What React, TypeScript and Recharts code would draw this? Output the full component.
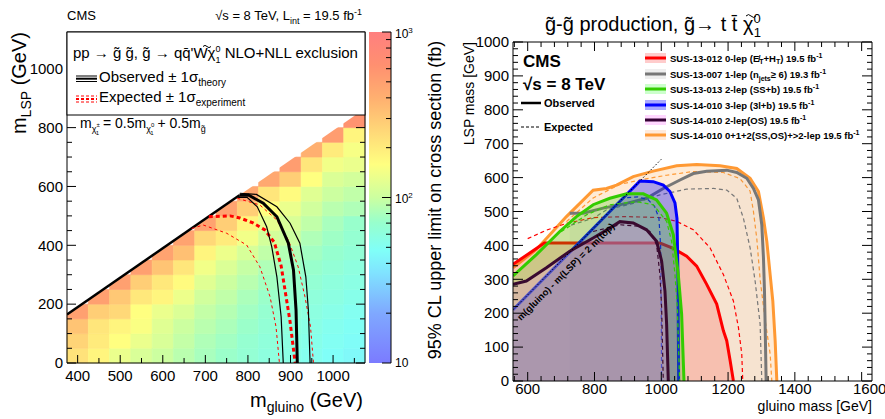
import React from 'react';
import { ComposedChart, XAxis, YAxis, Line, Area, ReferenceArea } from 'recharts';

const FONT = '"Liberation Sans", Arial, Helvetica, sans-serif';

// ---------- left panel: upper limit map ----------
const gluinoBins = [400, 450, 500, 550, 600, 650, 700, 750, 800, 850, 900, 950, 1000, 1050];
const lspBinWidth = 50;
const gluinoBinWidth = 50;
// 95% CL upper limit on cross section (fb), from m_LSP = 0 upwards to the diagonal
const lim400 = [224, 263, 316, 501];
const lim450 = [178, 200, 214, 282, 501];
const lim500 = [132, 158, 178, 251, 302, 501];
const lim550 = [112, 132, 151, 158, 209, 282, 501];
const lim600 = [100, 112, 120, 132, 178, 209, 316, 479];
const lim650 = [89, 95, 100, 115, 135, 166, 214, 331, 479];
const lim700 = [79, 83, 89, 95, 105, 120, 141, 178, 251, 479];
const lim750 = [72, 76, 81, 86, 93, 100, 115, 135, 200, 282, 479];
const lim800 = [66, 68, 72, 76, 81, 88, 96, 110, 141, 178, 282, 447];
const lim850 = [60, 62, 65, 68, 72, 77, 83, 93, 107, 126, 158, 214, 447];
const lim900 = [56, 58, 61, 64, 68, 72, 77, 85, 100, 112, 132, 166, 282, 525];
const lim950 = [52, 54, 56, 59, 62, 66, 71, 76, 83, 93, 105, 120, 158, 214, 400];
const lim1000 = [48, 50, 52, 55, 58, 61, 65, 69, 74, 79, 89, 100, 115, 141, 200, 525];
const lim1050 = [45, 47, 49, 51, 54, 57, 60, 64, 67, 71, 83, 93, 107, 132, 148, 178, 600];
const limitColumns = [lim400, lim450, lim500, lim550, lim600, lim650, lim700, lim750, lim800, lim850, lim900, lim950, lim1000, lim1050];

// kinematic edge (m_LSP vs m_gluino)
const edgeLeft = [[375, 165], [780, 570]];
const edgeWhite = { x1: 375, x2: 1075, lo: 165, hi: 865, top: 1125 };

const obsL = [[780, 570], [801, 571], [836, 543], [868, 497], [895, 407], [907, 316], [913, 180], [916, 0]];
const obsLm = [[777, 563], [798, 563], [822, 531], [844, 463], [856, 395], [868, 293], [878, 157], [883, 0]];
const obsLp = [[781, 577], [820, 573], [868, 531], [899, 475], [922, 407], [936, 293], [942, 180], [946, 0]];
const expL = [[708, 497], [758, 500], [781, 493], [812, 476], [840, 452], [862, 410], [878, 330], [888, 240], [899, 140], [911, 0]];
const expLm = [[668, 457], [695, 469], [750, 441], [797, 401], [828, 327], [852, 225], [866, 123], [874, 0]];
const expLp = [[775, 560], [828, 537], [868, 486], [895, 418], [918, 327], [934, 225], [947, 123], [954, 0]];

const xTicksL = [400, 450, 500, 550, 600, 650, 700, 750, 800, 850, 900, 950, 1000, 1050];
const xMajorL = [400, 500, 600, 700, 800, 900, 1000];
const yTicksL = [0, 50, 100, 150, 200, 250, 300, 350, 400, 450, 500, 550, 600, 650, 700, 750, 800, 850, 900, 950, 1000, 1050, 1100];
const yMajorL = [0, 200, 400, 600, 800, 1000];
const zMajor = [10, 100, 1000];
const zMinor = [20, 30, 40, 50, 60, 70, 80, 90, 200, 300, 400, 500, 600, 700, 800, 900];

// ---------- right panel: summary of exclusions ----------
const orangeObs = [[556, 334], [626, 388], [716, 485], [796, 563], [836, 568], [866, 578], [916, 603], [976, 619], [1046, 635], [1106, 639], [1176, 635], [1226, 627], [1266, 598], [1291, 559], [1306, 480], [1316, 412], [1326, 314], [1334, 236], [1341, 119], [1346, 0]];
const orangeExp = [[716, 470], [796, 540], [876, 580], [946, 595], [1016, 607], [1096, 618], [1186, 615], [1236, 597], [1266, 560], [1276, 500], [1286, 420], [1296, 300], [1311, 180], [1326, 80], [1331, 0]];
const greyObs = [[726, 495], [766, 495], [826, 510], [896, 524], [956, 539], [1006, 568], [1056, 593], [1096, 612], [1136, 619], [1196, 622], [1226, 615], [1256, 598], [1276, 568], [1291, 534], [1301, 461], [1306, 363], [1309, 266], [1311, 168], [1314, 0]];
const greyExp = [[730, 460], [796, 480], [836, 505], [916, 524], [996, 549], [1076, 566], [1156, 568], [1196, 563], [1226, 539], [1246, 480], [1266, 393], [1281, 295], [1296, 168], [1301, 0]];
const redObs = [[556, 344], [650, 407], [996, 407], [1036, 391], [1076, 368], [1106, 339], [1136, 285], [1166, 227], [1186, 148], [1196, 119], [1206, 61], [1216, 0]];
const redExp = [[600, 420], [656, 445], [716, 465], [796, 482], [896, 485], [996, 482], [1046, 471], [1096, 446], [1146, 393], [1186, 314], [1216, 236], [1231, 158], [1241, 80], [1244, 0]];
const greenObs = [[556, 310], [626, 373], [696, 441], [746, 485], [796, 520], [846, 539], [896, 552], [946, 552], [986, 534], [1016, 495], [1036, 432], [1051, 314], [1061, 197], [1068, 0]];
const greenExp = [[700, 440], [776, 490], [846, 520], [926, 529], [976, 520], [1016, 471], [1031, 412], [1041, 314], [1048, 217], [1055, 0]];
const blueObs = [[556, 210], [936, 590], [976, 588], [1006, 578], [1026, 559], [1041, 525], [1047, 480], [1050, 314], [1052, 0]];
const blueExp = [[556, 210], [886, 540], [930, 543], [960, 535], [980, 515], [993, 480], [998, 400], [1000, 200], [1001, 0]];
const purpleObs = [[556, 285], [596, 295], [656, 334], [726, 383], [796, 422], [846, 451], [876, 470], [916, 466], [956, 446], [986, 412], [1001, 354], [1011, 266], [1016, 168], [1021, 0]];
const purpleExp = [[796, 441], [876, 461], [936, 456], [966, 441], [986, 402], [996, 314], [1001, 217], [1006, 0]];
const topLine = [[556, 210], [1000, 654]];

const xMajorR = [600, 800, 1000, 1200, 1400, 1600];
const yMajorR = [0, 100, 200, 300, 400, 500, 600, 700, 800, 900, 1000];

// drawing order follows the layering seen in the figure
const analyses = [
  { key: 'orange', obs: orangeObs, exp: orangeExp, line: '#ff9933', fill: '#ff9933', op: 0.2 },
  { key: 'grey', obs: greyObs, exp: greyExp, line: '#777777', fill: '#888888', op: 0.08 },
  { key: 'red', obs: redObs, exp: redExp, line: '#ff0000', fill: '#ff2020', op: 0.18 },
  { key: 'blue', obs: blueObs, exp: blueExp, line: '#0000ff', fill: '#0000ff', op: 0.32 },
  { key: 'green', obs: greenObs, exp: greenExp, line: '#33cc00', fill: '#33cc00', op: 0.25 },
  { key: 'purple', obs: purpleObs, exp: purpleExp, line: '#3a0a30', fill: '#ee99dd', op: 0.3 },
];

const pts = (a: number[][]) => a.map(([x, y]) => ({ x, y }));
const steps = (a: number, b: number, s: number) => {
  const out: number[] = [];
  for (let v = a; v <= b + 1e-9; v += s) out.push(v);
  return out;
};

const palette: [number, string][] = [
  [1.0, '#7b7bff'], [1.3, '#7fa8ff'], [1.55, '#80e4ff'], [1.68, '#80fff8'], [1.85, '#98ffcc'],
  [2.0, '#ccffa0'], [2.2, '#ffff80'], [2.4, '#ffd878'], [2.6, '#ffb070'], [2.8, '#ff9070'], [3.0, '#ff7f7f'],
];
const hex = (c: string) => [1, 3, 5].map((i) => parseInt(c.slice(i, i + 2), 16));
function heatColor(v: number) {
  const t = Math.min(3, Math.max(1, Math.log10(v)));
  for (let i = 1; i < palette.length; i++) {
    const [t1, c1] = palette[i];
    const [t0, c0] = palette[i - 1];
    if (t <= t1) {
      const f = (t - t0) / (t1 - t0);
      const a = hex(c0), b = hex(c1);
      return `rgb(${a.map((q, k) => Math.round(q + (b[k] - q) * f)).join(',')})`;
    }
  }
  return palette[palette.length - 1][1];
}

// ROOT style ticks pointing into the frame
const mkTick = (side: 'b' | 't' | 'l' | 'r', majors: number[], big: number, small: number, fs = 0, lab0 = 18, lastShift = 0) => (p: any) => {
  const v = p.payload.value;
  const maj = majors.includes(v);
  const len = maj ? big : small;
  const { x, y } = p;
  let ln;
  if (side === 'b') ln = <line x1={x} x2={x} y1={y} y2={y - len} stroke="#000" />;
  else if (side === 't') ln = <line x1={x} x2={x} y1={y} y2={y + len} stroke="#000" />;
  else if (side === 'l') ln = <line x1={x} x2={x + len} y1={y} y2={y} stroke="#000" />;
  else ln = <line x1={x} x2={x - len} y1={y} y2={y} stroke="#000" />;
  let lab = null;
  if (maj && fs > 0 && side === 'b') {
    const dx = v === majors[majors.length - 1] ? lastShift : 0;
    lab = <text x={x + dx} y={y + lab0} textAnchor="middle" fontSize={fs} fontFamily={FONT} fill="#000">{v}</text>;
  }
  if (maj && fs > 0 && side === 'l') {
    lab = <text x={x - 4} y={y} dy="0.35em" textAnchor="end" fontSize={fs} fontFamily={FONT} fill="#000">{v}</text>;
  }
  return <g>{ln}{lab}</g>;
};

const axisStroke = { stroke: '#000', strokeWidth: 1 };

type AxisCfg = { xd: number[]; yd: number[]; xt: number[]; yt: number[]; xm: number[]; ym: number[]; xlab0: number; last: number; big: number };
const leftCfg: AxisCfg = { xd: [375, 1075], yd: [0, 1125], xt: xTicksL, yt: yTicksL, xm: xMajorL, ym: yMajorL, xlab0: 18, last: 0, big: 9 };
const rightCfg: AxisCfg = { xd: [556, 1631], yd: [0, 1000], xt: steps(560, 1600, 40), yt: steps(0, 1000, 20), xm: xMajorR, ym: yMajorR, xlab0: 13, last: 8, big: 10 };

function axes(c: AxisCfg, show: boolean) {
  const common = { type: 'number' as const, allowDataOverflow: true, interval: 0 as const, tickSize: 0, tickMargin: 0, tickLine: false };
  const al = show ? axisStroke : false;
  return [
    <XAxis key="xb" xAxisId="b" dataKey="x" domain={c.xd} ticks={c.xt} height={30} {...common} axisLine={al}
      tick={show ? mkTick('b', c.xm, c.big - 1, 5, 15, c.xlab0, c.last) : false} />,
    <XAxis key="xt" xAxisId="t" orientation="top" dataKey="x" domain={c.xd} ticks={c.xt} height={10} {...common} axisLine={al}
      tick={show ? mkTick('t', c.xm, c.big - 1, 5) : false} />,
    <YAxis key="yl" yAxisId="l" domain={c.yd} ticks={c.yt} width={40} {...common} axisLine={al}
      tick={show ? mkTick('l', c.ym, c.big, 5, 15) : false} />,
    <YAxis key="yr" yAxisId="r" orientation="right" domain={c.yd} ticks={c.yt} width={10} {...common} axisLine={al}
      tick={show ? mkTick('r', c.ym, c.big, 5) : false} />,
  ];
}

const leftMargin = { top: 22, right: 510, bottom: 26, left: 27 };
const rightMargin = { top: 32, right: 3, bottom: 8, left: 473 };
const abs = { position: 'absolute' as const, left: 0, top: 0 };

function Frame({ cfg, margin }: { cfg: AxisCfg; margin: any }) {
  return (
    <ComposedChart width={885} height={419} margin={margin} style={abs}>
      {axes(cfg, true)}
      <Line xAxisId="b" yAxisId="l" data={[{ x: cfg.xd[0], y: 0 }, { x: cfg.xd[1], y: 0 }]} dataKey="y" stroke="none" dot={false} isAnimationActive={false} />
    </ComposedChart>
  );
}

function LeftPanel() {
  const cells: any[] = [];
  limitColumns.forEach((col, i) => {
    const gx = gluinoBins[i];
    col.forEach((v, j) => {
      const c = heatColor(v);
      cells.push(
        <ReferenceArea key={`c${i}-${j}`} xAxisId="b" yAxisId="l" x1={gx - gluinoBinWidth / 2} x2={gx + gluinoBinWidth / 2}
          y1={j * lspBinWidth} y2={(j + 1) * lspBinWidth} fill={c} fillOpacity={1} stroke={c} strokeWidth={0.6} />
      );
    });
  });
  const w = edgeWhite;
  return (
    <ComposedChart width={885} height={419} margin={leftMargin} style={abs}>
      {axes(leftCfg, false)}
      {cells}
      <ReferenceArea xAxisId="b" yAxisId="l" x1={w.x1} x2={w.x2} y1={w.lo} y2={w.top} fillOpacity={1}
        shape={(p: any) => {
          const f = (w.hi - w.lo) / (w.top - w.lo);
          const { x, y, width, height } = p;
          return <polygon points={`${x},${y + height} ${x + width},${y + height - f * height} ${x + width},${y} ${x},${y}`} fill="#fff" />;
        }} />
      <Line xAxisId="b" yAxisId="l" data={pts(edgeLeft)} dataKey="y" stroke="#000" strokeWidth={2.5} dot={false} isAnimationActive={false} />
      <Line xAxisId="b" yAxisId="l" data={pts(expLm)} dataKey="y" stroke="#ff0000" strokeWidth={1} strokeDasharray="3 3" dot={false} isAnimationActive={false} />
      <Line xAxisId="b" yAxisId="l" data={pts(expLp)} dataKey="y" stroke="#ff0000" strokeWidth={1} strokeDasharray="3 3" dot={false} isAnimationActive={false} />
      <Line xAxisId="b" yAxisId="l" data={pts(expL)} dataKey="y" stroke="#ff0000" strokeWidth={3} strokeDasharray="4 3" dot={false} isAnimationActive={false} />
      <Line xAxisId="b" yAxisId="l" data={pts(obsLm)} dataKey="y" stroke="#000" strokeWidth={1.2} dot={false} isAnimationActive={false} />
      <Line xAxisId="b" yAxisId="l" data={pts(obsLp)} dataKey="y" stroke="#000" strokeWidth={1.2} dot={false} isAnimationActive={false} />
      <Line xAxisId="b" yAxisId="l" data={pts(obsL)} dataKey="y" stroke="#000" strokeWidth={3} dot={false} isAnimationActive={false} />
    </ComposedChart>
  );
}

function RightPanel() {
  const series: any[] = [];
  analyses.forEach((a) => {
    series.push(<Area key={a.key + 'o'} xAxisId="b" yAxisId="l" data={pts(a.obs)} dataKey="y" type="linear" stroke={a.line} strokeWidth={3}
      fill={a.fill} fillOpacity={a.op} isAnimationActive={false} />);
    series.push(<Area key={a.key + 'e'} xAxisId="b" yAxisId="l" data={pts(a.exp)} dataKey="y" type="linear" stroke={a.line} strokeWidth={1.2}
      strokeDasharray="4 3" fill="none" fillOpacity={0} isAnimationActive={false} />);
  });
  return (
    <ComposedChart width={885} height={419} margin={rightMargin} style={abs}>
      {axes(rightCfg, false)}
      {series}
      <Line xAxisId="b" yAxisId="l" data={pts(topLine)} dataKey="y" stroke="#000" strokeWidth={1} strokeDasharray="1.5 2" dot={false} isAnimationActive={false} />
    </ComposedChart>
  );
}

const legendRows = [
  { c: '#ff0000', f: '#ffcccc', t: <>SUS-13-012 0-lep (E̸<tspan dy={2} fontSize={7}>T</tspan><tspan dy={-2}>+H</tspan><tspan dy={2} fontSize={7}>T</tspan><tspan dy={-2}>) 19.5 fb</tspan><tspan dy={-4} fontSize={7}>-1</tspan></> },
  { c: '#777777', f: '#eeeeee', t: <>SUS-13-007 1-lep (n<tspan dy={3} fontSize={7}>jets</tspan><tspan dy={-3}>≥ 6) 19.3 fb</tspan><tspan dy={-4} fontSize={7}>-1</tspan></> },
  { c: '#33cc00', f: '#ccffcc', t: <>SUS-13-013 2-lep (SS+b) 19.5 fb<tspan dy={-4} fontSize={7}>-1</tspan></> },
  { c: '#0000ff', f: '#aaaaff', t: <>SUS-14-010 3-lep (3l+b) 19.5 fb<tspan dy={-4} fontSize={7}>-1</tspan></> },
  { c: '#330033', f: '#ffd6ff', t: <>SUS-14-010 2-lep(OS) 19.5 fb<tspan dy={-4} fontSize={7}>-1</tspan></> },
  { c: '#ff9933', f: '#ffeadb', t: <>SUS-14-010 0+1+2(SS,OS)+&gt;2-lep 19.5 fb<tspan dy={-4} fontSize={7}>-1</tspan></> },
];
const legendY = [58, 74, 89, 105, 120, 135];

// small tilde drawn over a chi glyph
const Tilde = ({ x, y, w }: { x: number; y: number; w: number }) => (
  <path d={`M${x},${y} q${w / 4},${-w / 3.5} ${w / 2},0 t${w / 2},0`} fill="none" stroke="#000" strokeWidth={1} />
);

function Overlay() {
  const zTop = 32, zBot = 363;
  const zy = (v: number) => zBot - ((Math.log10(v) - 1) / 2) * (zBot - zTop);
  return (
    <svg width={885} height={419} style={{ ...abs, pointerEvents: 'none' }} fontFamily={FONT}>
      <defs>
        <linearGradient id="zpal" x1="0" y1="1" x2="0" y2="0">
          {palette.map(([t, c]) => <stop key={t} offset={(t - 1) / 2} stopColor={c} />)}
        </linearGradient>
      </defs>
      {/* left panel header */}
      <text x={67} y={20} fontSize={13}>CMS</text>
      <text x={362} y={20} fontSize={13} textAnchor="end">√s = 8 TeV,  L<tspan dy={4} fontSize={9}>int</tspan><tspan dy={-4}> = 19.5 fb</tspan><tspan dy={-5} fontSize={9}>-1</tspan></text>
      {/* legend box */}
      <rect x={67} y={32} width={298} height={83} fill="#fff" stroke="#000" strokeWidth={1} />
      <text x={73} y={58} fontSize={15}>pp → g̃ g̃, g̃ → qq̄'Wχ<tspan dy={-6} fontSize={9}>0</tspan><tspan dx={-5} dy={11} fontSize={9}>1</tspan><tspan dy={-5}>  NLO+NLL exclusion</tspan></text>
      <Tilde x={203} y={46.5} w={8} />
      <line x1={76} x2={97} y1={76} y2={76} stroke="#000" strokeWidth={1} />
      <line x1={76} x2={97} y1={78.7} y2={78.7} stroke="#000" strokeWidth={2} />
      <line x1={76} x2={97} y1={81.5} y2={81.5} stroke="#000" strokeWidth={1} />
      <text x={99} y={82} fontSize={15}>Observed ± 1σ<tspan dy={4} fontSize={10}>theory</tspan></text>
      <line x1={76} x2={97} y1={96} y2={96} stroke="#ff0000" strokeWidth={1} strokeDasharray="3 2" />
      <line x1={76} x2={97} y1={99} y2={99} stroke="#ff0000" strokeWidth={2} strokeDasharray="3 2" />
      <line x1={76} x2={97} y1={102} y2={102} stroke="#ff0000" strokeWidth={1} strokeDasharray="3 2" />
      <text x={99} y={102} fontSize={15}>Expected ± 1σ<tspan dy={4} fontSize={10}>experiment</tspan></text>
      <text x={80} y={128} fontSize={14}>m<tspan dy={4} fontSize={9}>χ</tspan><tspan dy={-5} fontSize={6}>±</tspan><tspan dx={-4} dy={8} fontSize={6}>1</tspan><tspan dy={-7}> = 0.5m</tspan><tspan dy={4} fontSize={9}>χ</tspan><tspan dy={-5} fontSize={6}>0</tspan><tspan dx={-4} dy={8} fontSize={6}>1</tspan><tspan dy={-7}> + 0.5m</tspan><tspan dy={4} fontSize={9}>g̃</tspan></text>
      {/* left axis titles */}
      <text x={363} y={407} fontSize={20} textAnchor="end">m<tspan dy={5} fontSize={14}>gluino</tspan><tspan dy={-5}> (GeV)</tspan></text>
      <text transform="translate(26,32) rotate(-90)" fontSize={20} textAnchor="end">m<tspan dy={5} fontSize={14}>LSP</tspan><tspan dy={-5}> (GeV)</tspan></text>
      {/* colour scale */}
      <rect x={369} y={zTop} width={22} height={zBot - zTop} fill="url(#zpal)" />
      <line x1={391} x2={391} y1={zTop} y2={zBot} stroke="#000" />
      {zMajor.map((v) => <line key={v} x1={391} x2={382} y1={zy(v)} y2={zy(v)} stroke="#000" />)}
      {zMinor.map((v) => <line key={v} x1={391} x2={386} y1={zy(v)} y2={zy(v)} stroke="#000" />)}
      <text x={395} y={zy(1000) + 6} fontSize={12}>10<tspan dy={-5} fontSize={8}>3</tspan></text>
      <text x={395} y={zy(100) + 5} fontSize={12}>10<tspan dy={-5} fontSize={8}>2</tspan></text>
      <text x={395} y={zy(10) + 4} fontSize={12}>10</text>
      <text transform="translate(441,200) rotate(-90)" fontSize={18} textAnchor="middle">95% CL upper limit on cross section (fb)</text>

      {/* right panel */}
      <text x={545} y={31} fontSize={20}>g̃-g̃ production,  g̃→ t t̄ χ<tspan dy={-8} fontSize={13}>0</tspan><tspan dx={-7} dy={14} fontSize={13}>1</tspan></text>
      <Tilde x={746} y={16} w={10} />
      <text x={523} y={67} fontSize={17} fontWeight="bold">CMS</text>
      <text x={523} y={90} fontSize={17} fontWeight="bold">√s = 8 TeV</text>
      <line x1={521} x2={541} y1={103} y2={103} stroke="#000" strokeWidth={2.5} />
      <text x={544} y={107} fontSize={11} fontWeight="bold">Observed</text>
      <line x1={521} x2={541} y1={127} y2={127} stroke="#000" strokeWidth={1} strokeDasharray="3 2" />
      <text x={544} y={131} fontSize={11} fontWeight="bold">Expected</text>
      {legendRows.map((r, i) => (
        <g key={i}>
          <rect x={645} y={legendY[i] - 5} width={21} height={10} fill={r.f} />
          <line x1={645} x2={666} y1={legendY[i]} y2={legendY[i]} stroke={r.c} strokeWidth={3} />
          <text x={670} y={legendY[i] + 4} fontSize={9.5} fontWeight="bold">{r.t}</text>
        </g>
      ))}
      <text transform="translate(568,274) rotate(-45)" fontSize={9.5} fontWeight="bold" textAnchor="middle">m(gluino) - m(LSP) = 2 m(top)</text>
      <text transform="translate(474,42) rotate(-90)" fontSize={14} textAnchor="end">LSP mass [GeV]</text>
      <text x={872} y={411} fontSize={14} textAnchor="end">gluino mass [GeV]</text>
    </svg>
  );
}

export default function App() {
  return (
    <div style={{ position: 'absolute', left: 0, top: 0, width: 885, height: 419, background: '#fff', overflow: 'hidden' }}>
      <LeftPanel />
      <Frame cfg={leftCfg} margin={leftMargin} />
      <RightPanel />
      <Frame cfg={rightCfg} margin={rightMargin} />
      <Overlay />
    </div>
  );
}
